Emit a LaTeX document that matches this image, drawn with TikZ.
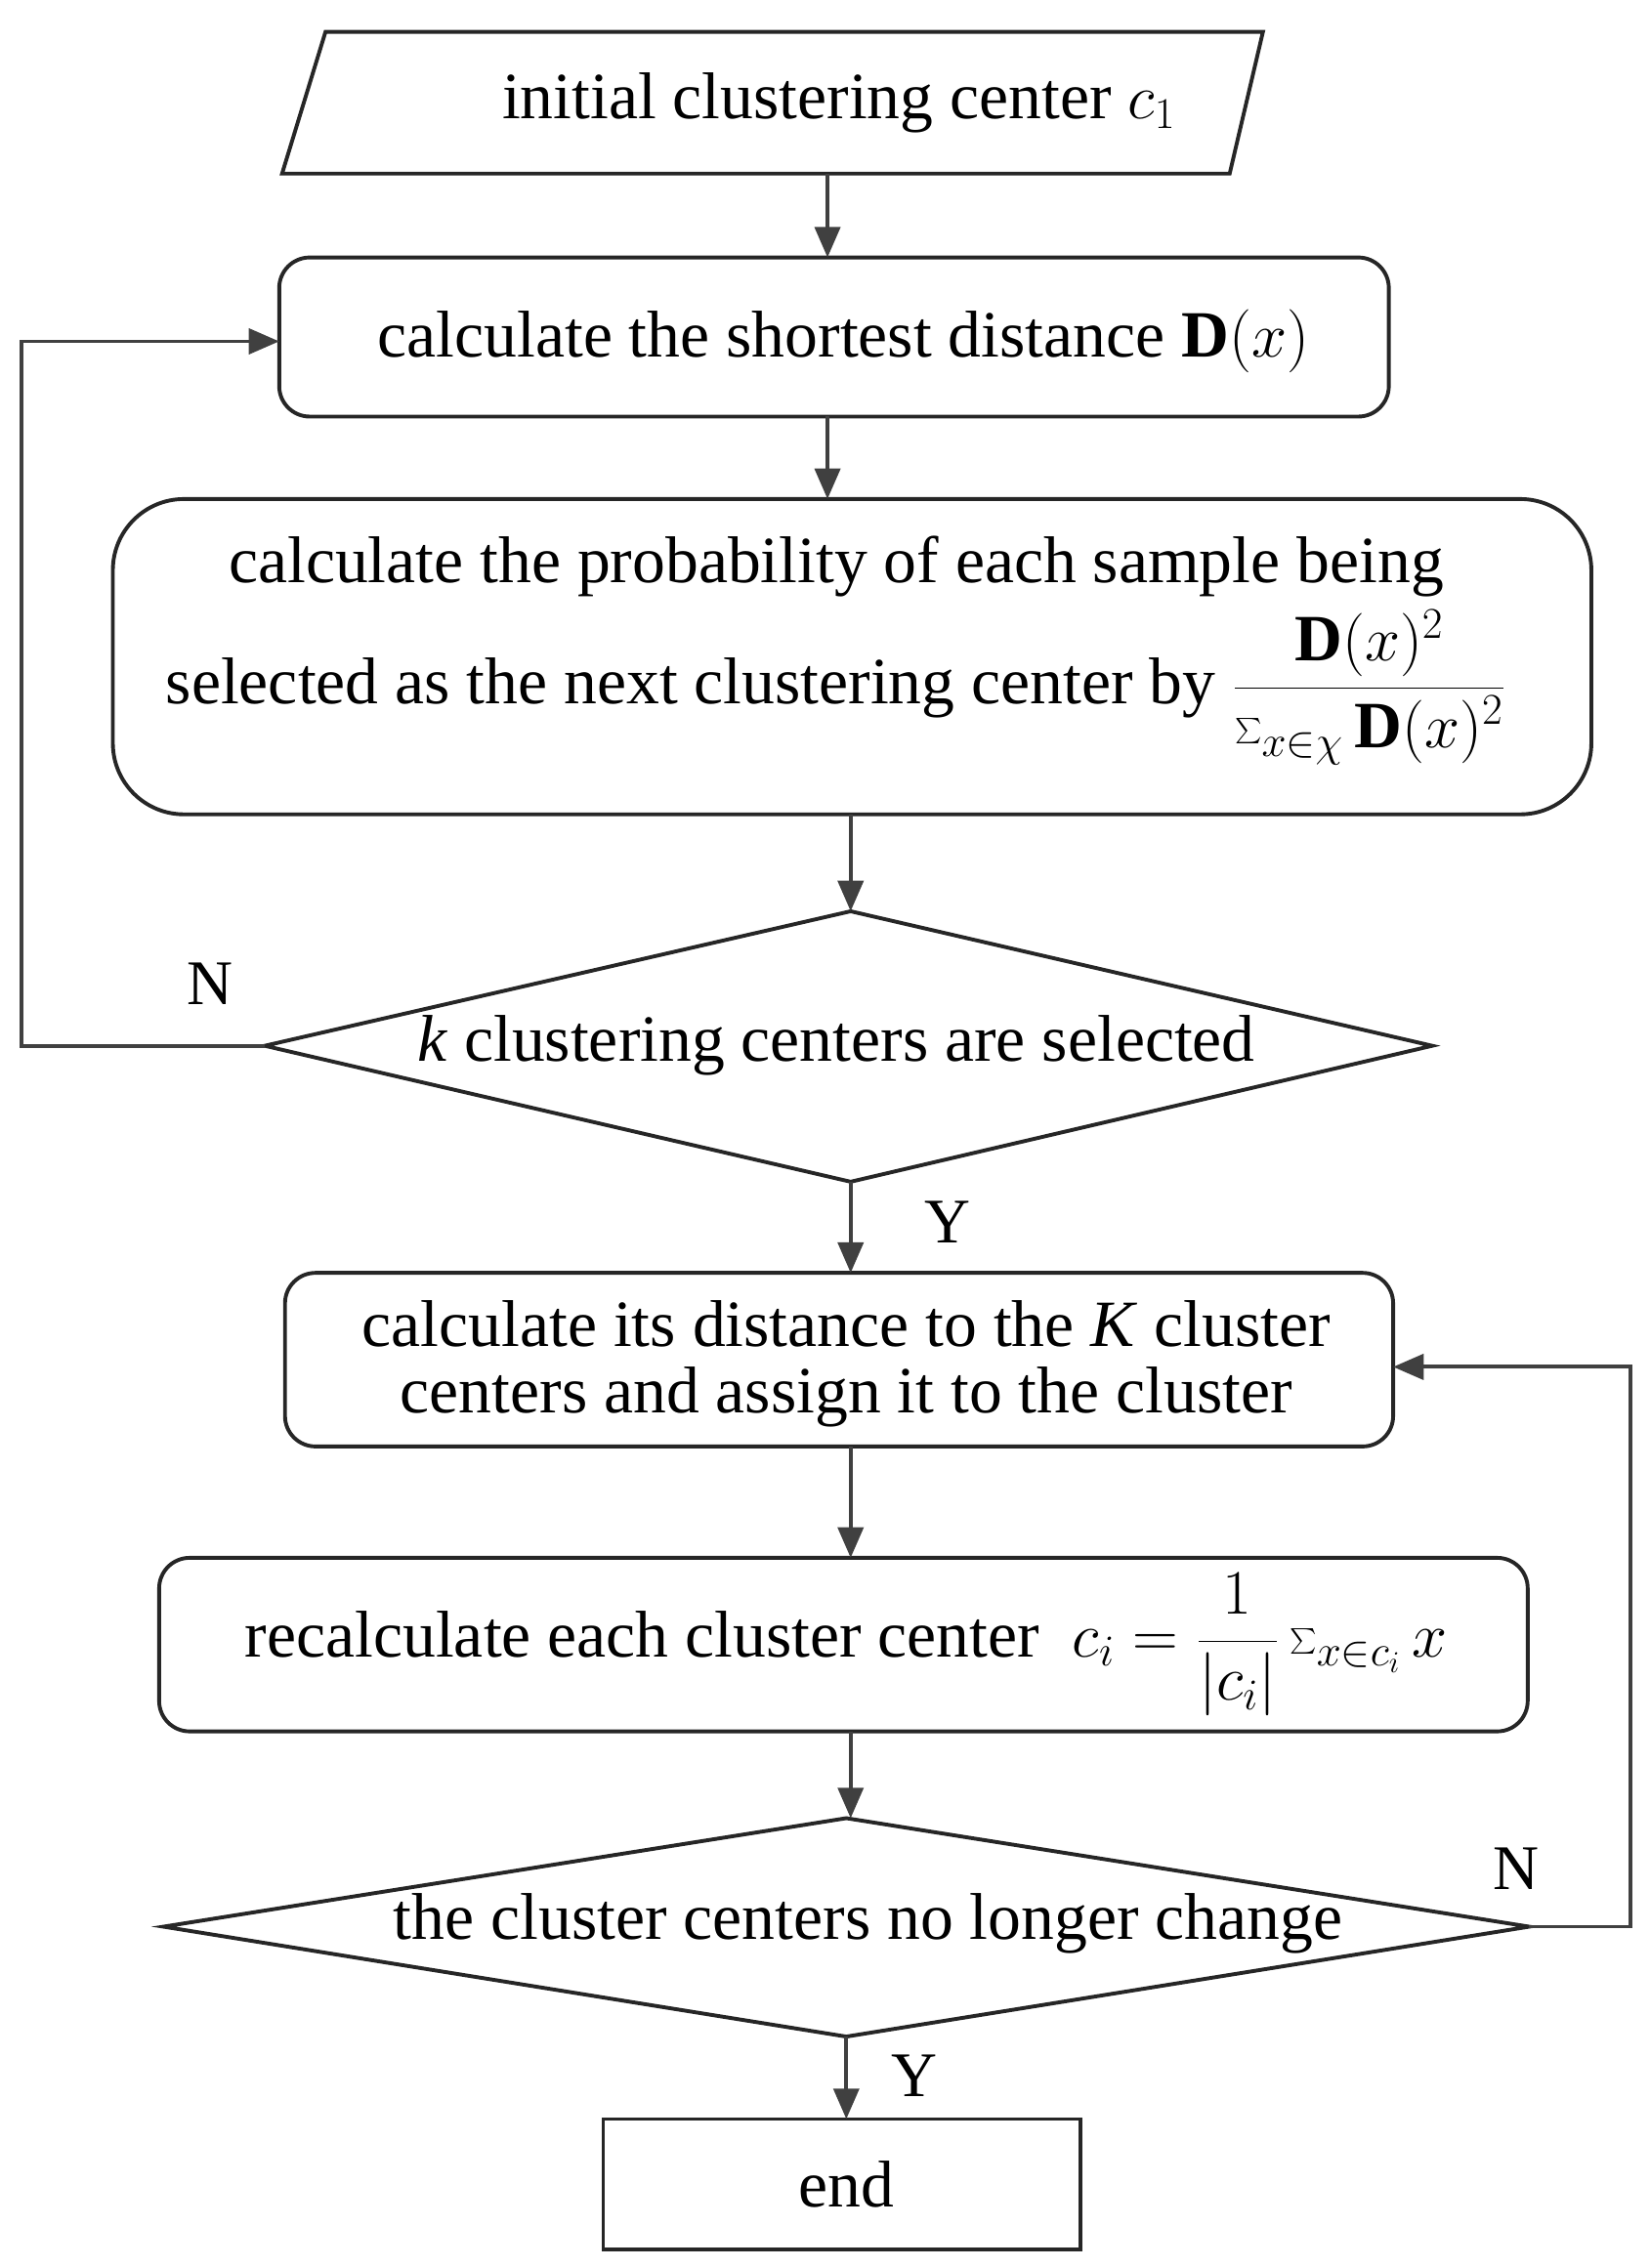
\documentclass[tikz,border=0pt]{standalone}
\usepackage{fontspec}
\setmainfont{Liberation Serif}
\usetikzlibrary{shapes.geometric,arrows.meta}
\begin{document}
\begin{tikzpicture}[x=0.02cm,y=-0.02cm,
  line width=1.3pt,
  every node/.style={font=\fontsize{26}{32}\selectfont},
  box/.style={draw=black!85,rounded corners=12pt,line width=1.5pt},
  arr/.style={draw=black!75,-{Triangle[length=12pt,width=10pt]},line width=1.5pt},
  lbl/.style={font=\fontsize{25}{28}\selectfont}]
\useasboundingbox (0,0) rectangle (1140,1568);
% parallelogram
\draw[black!85,line width=1.5pt] (225,22) -- (873,22) -- (850,120) -- (195,120) -- cycle;
\node (p) at (580,71) {initial clustering center $c_1$};
\coordinate (pb) at (572,120);
\draw[box] (193,178) rectangle (960,288);
\node (b1) at (583,236) {calculate the shortest distance $\mathbf{D}(x)$};
\coordinate (b1t) at (572,178);
\coordinate (b1b) at (572,288);
\coordinate (b1l) at (193,236);
\draw[box,rounded corners=28pt] (78,345) rectangle (1100,563);
\node[align=center] (b2) at (578,450) {calculate the probability of each sample being\\[4pt]
 selected as the next clustering center by $\displaystyle\frac{\mathbf{D}(x)^2}{\textstyle\sum_{x\in\chi}\mathbf{D}(x)^2}$};
\coordinate (b2t) at (572,345);
\coordinate (b2b) at (588,563);
\draw[black!85,line width=1.5pt] (183,723) -- (588,630) -- (990,723) -- (588,817) -- cycle;
\node (d1) at (578,723) {\textit{k} clustering centers are selected};
\coordinate (d1t) at (588,630);
\coordinate (d1b) at (588,817);
\coordinate (d1l) at (183,723);
\coordinate (c1) at (15,723);
\coordinate (c2) at (15,236);
\draw[box] (197,880) rectangle (963,1000);
\node[align=center] (b3) at (585,943) {calculate its distance to the \textit{K} cluster\\[-6pt] centers and assign it to the cluster};
\coordinate (b3t) at (588,880);
\coordinate (b3b) at (588,1000);
\coordinate (b3r) at (963,945);
\draw[box] (110,1077) rectangle (1056,1197);
\node (b4) at (585,1137) {recalculate each cluster center \ $c_i=\displaystyle\frac{1}{|c_i|}\textstyle\sum_{x\in c_i}x$};
\coordinate (b4t) at (588,1077);
\coordinate (b4b) at (588,1197);
\draw[black!85,line width=1.5pt] (113,1332) -- (585,1257) -- (1057,1332) -- (585,1408) -- cycle;
\node (d2) at (600,1330) {the cluster centers no longer change};
\coordinate (d2t) at (588,1257);
\coordinate (d2b) at (585,1408);
\coordinate (d2r) at (1057,1332);
\coordinate (c3) at (1127,1332);
\coordinate (c4) at (1127,945);
\draw[black!85,line width=1.5pt] (417,1465) rectangle (747,1555);
\node (e) at (585,1510) {end};
\coordinate (et) at (585,1465);
% connectors
\draw[arr] (pb) -- (b1t);
\draw[arr] (b1b) -- (b2t);
\draw[arr] (b2b) -- (d1t);
\draw[arr] (d1b) -- (b3t);
\draw[arr] (b3b) -- (b4t);
\draw[arr] (b4b) -- (d2t);
\draw[arr] (d2b) -- (et);
\draw[arr] (d1l) -- (c1) -- (c2) -- (b1l);
\draw[arr] (d2r) -- (c3) -- (c4) -- (b3r);
\node[lbl] (n1) at (145,680) {N};
\node[lbl] (y1) at (655,845) {Y};
\node[lbl] (n2) at (1048,1292) {N};
\node[lbl] (y2) at (632,1435) {Y};
\end{tikzpicture}
\end{document}
